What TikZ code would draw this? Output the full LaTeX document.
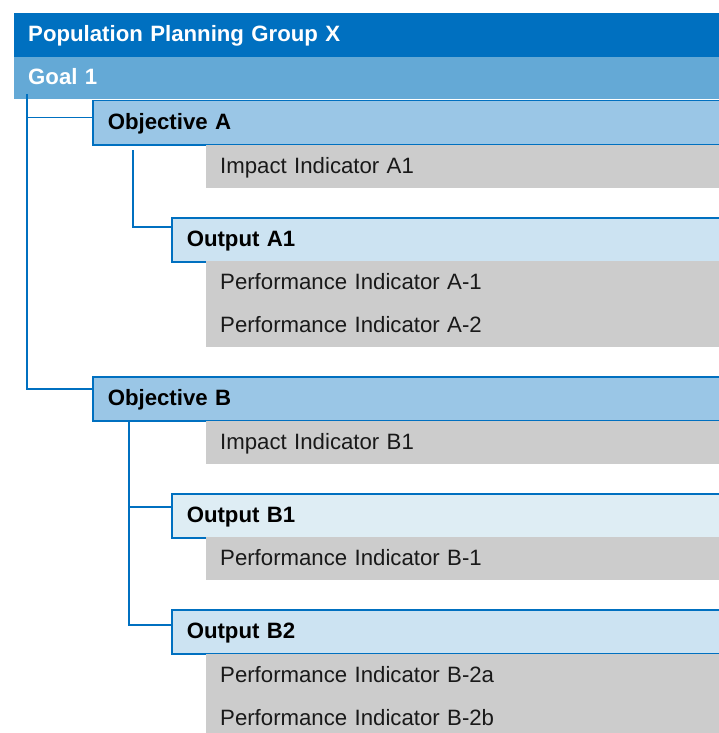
\documentclass[tikz,border=0pt]{standalone}
\usepackage{fontspec}
\setmainfont{Liberation Sans}
\usepackage{tikz}

\definecolor{groupblue}{HTML}{0070C0}
\definecolor{goalblue}{HTML}{64A9D6}
\definecolor{objfill}{HTML}{9AC6E6}
\definecolor{outfill}{HTML}{CCE3F2}
\definecolor{outpale}{HTML}{DEEDF4}
\definecolor{indgray}{HTML}{CCCCCC}

\begin{document}
\begin{tikzpicture}[x=1pt,y=-1pt]
    \tikzstyle{every node}=[anchor=north west,shape=rectangle,inner ysep=0pt,text height=17pt,text depth=4pt,align=left,font=\fontsize{22.2}{27}\selectfont];
    \tikzstyle{headbar}=[fill=groupblue,text=white,font=\fontsize{22.2}{27}\selectfont\bfseries,inner xsep=14pt,text width=677pt,minimum height=44pt];
    \tikzstyle{goalbar}=[headbar,fill=goalblue,minimum height=42pt];
    \tikzstyle{objbox}=[draw=groupblue,line width=1.5pt,fill=objfill,font=\fontsize{22.2}{27}\selectfont\bfseries,inner xsep=15pt,text width=600pt,minimum height=44pt];
    \tikzstyle{outbox}=[objbox,fill=outfill,text width=521pt];
    \tikzstyle{indbox}=[fill=indgray,text=black!90,inner xsep=14pt,text width=485pt,minimum height=43pt];
    \tikzstyle{link}=[draw=groupblue,line width=1.5pt];

    \clip (0,0) rectangle (719,733);

    \node[headbar] at (14, 13)  (group) {Population Planning Group X};
    \node[goalbar] at (14, 57)  (goal)  {Goal 1};

    % objective A
    \node[objbox]  at (92, 100)  (objA)  {Objective A};
    \node[indbox]  at (206, 145) (impA1) {Impact Indicator A1};
    \node[outbox]  at (171, 217) (outA1) {Output A1};
    \node[indbox]  at (206, 261) (perfA1) {Performance Indicator A-1};
    \node[indbox]  at (206, 304) (perfA2) {Performance Indicator A-2};

    % objective B
    \node[objbox]  at (92, 376)  (objB)  {Objective B};
    \node[indbox]  at (206, 421) (impB1) {Impact Indicator B1};
    \node[outbox,fill=outpale] at (171, 493) (outB1) {Output B1};
    \node[indbox]  at (206, 537) (perfB1) {Performance Indicator B-1};
    \node[outbox]  at (171, 609) (outB2) {Output B2};
    \node[indbox]  at (206, 654) (perfB2a) {Performance Indicator B-2a};
    \node[indbox]  at (206, 697) (perfB2b) {Performance Indicator B-2b};

    \coordinate (gstem) at (27, 94);
    \coordinate (astem) at (133, 150);
    \coordinate (bstem) at (129, 421);

    \draw[link] (gstem) |- ([yshift=10pt]objB.west);
    \draw[link] ([yshift=5pt]objA.west) -| (gstem);
    \draw[link] (astem) |- ([yshift=13pt]outA1.west);
    \draw[link] (bstem) |- ([yshift=7pt]outB2.west);
    \draw[link] ([yshift=9pt]outB1.west) -| (bstem);
\end{tikzpicture}
\end{document}
